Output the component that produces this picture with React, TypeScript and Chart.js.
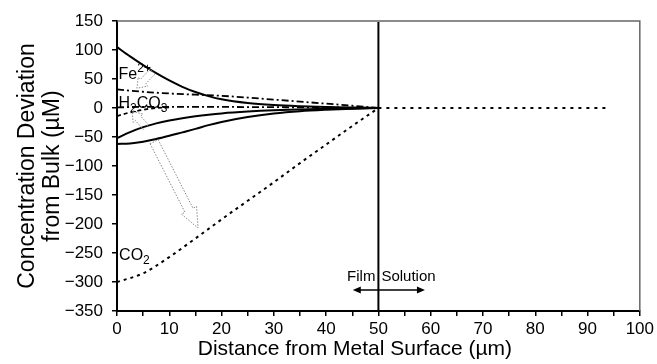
import React, { useEffect, useRef } from "react";
import { Chart, registerables } from "chart.js";

Chart.register(...registerables);

// ---- Data ----
const X_FINE = [0, 2.5, 5, 7.5, 10, 12.5, 15, 17.5, 20, 25, 30, 35, 40, 45, 50];
const X_COARSE = [0, 5, 10, 15, 20, 25, 30, 35, 40, 45, 50];
const X_SHORT = [0, 2.5, 5, 7.5, 10];
const X_BULK = [50, 94];

const FE_SOLID = [105, 89, 74, 60, 47.5, 36.5, 27.5, 20.5, 15, 8.5, 5, 3, 1.7, 0.8, 0];
const FE_DASHDOT = [32, 28, 25, 23, 21, 18, 14.5, 11, 7.5, 4, 0];
const H2CO3_DASHDOT = [1, 2, 2, 2, 2, 1.5, 1.5, 1, 1, 0.5, 0];
const LOWER_DASH = [-14, -7.5, -3, 0, 1];
const SOLID_A = [-52, -41.5, -33, -26.5, -21.5, -17.5, -14.2, -11.5, -9.3, -6.2, -4, -2.6, -1.5, -0.7, 0];
const SOLID_B = [-62, -61, -58, -53.5, -48, -42, -36, -29.5, -24, -15.5, -9.5, -5.5, -3, -1.2, 0];
const CO2_DOTTED = [-300, -285, -257, -225, -192, -160, -128, -95, -63, -31, 0];
const BULK = [0, 0];

const X_TICK_LABELS = [0, 10, 20, 30, 40, 50, 60, 70, 80, 90, 100];
const X_TITLE = "Distance from Metal Surface (µm)";
const Y_TITLE = ["Concentration Deviation", "from Bulk (µM)"];

// annotation anchors in data coordinates
const FILM_BOUNDARY = 50;
const FILM_TEXT_Y = -291;
const FILM_ARROW = { y: -314, x0: 45.1, x1: 58.9 };
const X_TITLE_CENTER = 45.5; // data-x where the axis title is centred
const LABELS = [
  { parts: [{ t: "Fe", m: "n" }, { t: "2+", m: "sup" }], x: 0.3, y: 58 },
  { parts: [{ t: "H", m: "n" }, { t: "2", m: "sub" }, { t: "CO", m: "n" }, { t: "3", m: "sub" }], x: 0.3, y: 7 },
  { parts: [{ t: "CO", m: "n" }, { t: "2", m: "sub" }], x: 0.4, y: -255 },
];
const HOLLOW_ARROWS = [
  { tail: [6.8, 63], head: [3.8, 34], shaft: 3.5, headW: 6.5, headL: 9 },
  { tail: [5.5, -33], head: [2.9, -6], shaft: 3.5, headW: 6.5, headL: 9 },
  { tail: [7.1, -58], head: [15.5, -207], shaft: 4.5, headW: 8.5, headL: 20 },
];

const pts = (xs: number[], ys: number[]) => xs.map((x, i) => ({ x, y: ys[i] }));

const FONT = "'Liberation Sans', Arial, Helvetica, sans-serif";

function drawRich(ctx: CanvasRenderingContext2D, parts: any[], x: number, y: number, size: number) {
  let cx = x;
  for (const p of parts) {
    const s = p.m === "n" ? size : size * 0.75;
    ctx.font = `${s}px ${FONT}`;
    const dy = p.m === "sup" ? -size * 0.35 : p.m === "sub" ? size * 0.3 : 0;
    ctx.fillText(p.t, cx, y + dy);
    cx += ctx.measureText(p.t).width;
  }
}

const overlayPlugin = {
  id: "overlay",
  beforeDatasetsDraw(chart: any) {
    const { ctx, chartArea, scales } = chart;
    const xs = scales.x;
    ctx.save();
    ctx.strokeStyle = "#666";
    ctx.lineWidth = 1.5;
    ctx.beginPath();
    ctx.moveTo(chartArea.left, chartArea.top);
    ctx.lineTo(chartArea.right, chartArea.top);
    ctx.lineTo(chartArea.right, chartArea.bottom);
    ctx.stroke();
    const bx = xs.getPixelForValue(FILM_BOUNDARY);
    ctx.strokeStyle = "#000";
    ctx.lineWidth = 2;
    ctx.beginPath();
    ctx.moveTo(bx, chartArea.top + 1);
    ctx.lineTo(bx, chartArea.bottom);
    ctx.stroke();
    ctx.restore();
  },
  afterDatasetsDraw(chart: any) {
    const { ctx, scales, chartArea } = chart;
    const xs = scales.x;
    const ys = scales.y;
    ctx.save();
    ctx.fillStyle = "#000";
    ctx.textBaseline = "middle";
    ctx.textAlign = "left";
    for (const l of LABELS) {
      drawRich(ctx, l.parts, xs.getPixelForValue(l.x), ys.getPixelForValue(l.y), 16);
    }
    const bx = xs.getPixelForValue(FILM_BOUNDARY);
    const ty = ys.getPixelForValue(FILM_TEXT_Y);
    ctx.font = `15px ${FONT}`;
    ctx.textAlign = "right";
    ctx.fillText("Film", bx - 3, ty);
    ctx.textAlign = "left";
    ctx.fillText("Solution", bx + 3, ty);
    const ay = ys.getPixelForValue(FILM_ARROW.y);
    const ax0 = xs.getPixelForValue(FILM_ARROW.x0);
    const ax1 = xs.getPixelForValue(FILM_ARROW.x1);
    ctx.strokeStyle = "#000";
    ctx.lineWidth = 1.5;
    ctx.beginPath();
    ctx.moveTo(ax0 + 4, ay);
    ctx.lineTo(ax1 - 4, ay);
    ctx.stroke();
    ctx.beginPath();
    ctx.moveTo(ax0, ay);
    ctx.lineTo(ax0 + 8, ay - 3.5);
    ctx.lineTo(ax0 + 8, ay + 3.5);
    ctx.closePath();
    ctx.moveTo(ax1, ay);
    ctx.lineTo(ax1 - 8, ay - 3.5);
    ctx.lineTo(ax1 - 8, ay + 3.5);
    ctx.closePath();
    ctx.fill();

    // x axis title
    ctx.font = `21px ${FONT}`;
    ctx.textAlign = "center";
    ctx.textBaseline = "middle";
    ctx.fillText(X_TITLE, xs.getPixelForValue(X_TITLE_CENTER), chartArea.bottom + 38);

    ctx.strokeStyle = "#888";
    ctx.lineWidth = 1;
    ctx.setLineDash([1.5, 1.5]);
    for (const a of HOLLOW_ARROWS) {
      const tx = xs.getPixelForValue(a.tail[0]);
      const tyy = ys.getPixelForValue(a.tail[1]);
      const hx = xs.getPixelForValue(a.head[0]);
      const hy = ys.getPixelForValue(a.head[1]);
      const dx = hx - tx;
      const dy = hy - tyy;
      const len = Math.hypot(dx, dy);
      const ux = dx / len;
      const uy = dy / len;
      const nx = -uy;
      const ny = ux;
      const bxp = hx - ux * a.headL;
      const byp = hy - uy * a.headL;
      ctx.beginPath();
      ctx.moveTo(tx + nx * a.shaft, tyy + ny * a.shaft);
      ctx.lineTo(bxp + nx * a.shaft, byp + ny * a.shaft);
      ctx.lineTo(bxp + nx * a.headW, byp + ny * a.headW);
      ctx.lineTo(hx, hy);
      ctx.lineTo(bxp - nx * a.headW, byp - ny * a.headW);
      ctx.lineTo(bxp - nx * a.shaft, byp - ny * a.shaft);
      ctx.lineTo(tx - nx * a.shaft, tyy - ny * a.shaft);
      ctx.closePath();
      ctx.stroke();
    }
    ctx.restore();
  },
};

export default function App() {
  const ref = useRef<HTMLCanvasElement | null>(null);
  useEffect(() => {
    if (!ref.current) return;
    const base = {
      pointRadius: 0,
      borderColor: "#000",
      fill: false,
      cubicInterpolationMode: "monotone" as const,
    };
    const chart = new Chart(ref.current, {
      type: "line",
      data: {
        datasets: [
          { ...base, data: pts(X_FINE, FE_SOLID), borderWidth: 2 },
          { ...base, data: pts(X_COARSE, FE_DASHDOT), borderWidth: 1.8, borderDash: [7, 3, 2, 3] },
          { ...base, data: pts(X_COARSE, H2CO3_DASHDOT), borderWidth: 1.8, borderDash: [7, 3, 2, 3] },
          { ...base, data: pts(X_SHORT, LOWER_DASH), borderWidth: 1.8, borderDash: [4, 3] },
          { ...base, data: pts(X_FINE, SOLID_A), borderWidth: 2 },
          { ...base, data: pts(X_FINE, SOLID_B), borderWidth: 2 },
          { ...base, data: pts(X_COARSE, CO2_DOTTED), borderWidth: 2, borderDash: [3, 4] },
          { ...base, data: pts(X_BULK, BULK), borderWidth: 2, borderDash: [3, 5] },
        ],
      },
      options: {
        animation: false,
        responsive: false,
        maintainAspectRatio: false,
        layout: { padding: { top: 21, right: 17, left: 0, bottom: 0 } },
        plugins: { legend: { display: false }, tooltip: { enabled: false } },
        scales: {
          x: {
            type: "linear",
            min: 0,
            max: 100,
            afterFit: (s: any) => {
              s.height = 53;
            },
            afterBuildTicks: (s: any) => {
              const t: any[] = [];
              for (let v = 0; v <= 100; v += 5) t.push({ value: v });
              s.ticks = t;
            },
            ticks: {
              autoSkip: false,
              maxRotation: 0,
              padding: 3,
              color: "#000",
              font: { family: FONT, size: 17 },
              callback: (v: any) => (X_TICK_LABELS.includes(Number(v)) ? String(v) : ""),
            },
            grid: { drawOnChartArea: false, drawTicks: true, tickLength: 5, color: "#000", lineWidth: 1.5 },
            border: { display: true, color: "#000", width: 2 },
            title: { display: false },
          },
          y: {
            type: "linear",
            min: -350,
            max: 150,
            afterFit: (s: any) => {
              s.width = 117;
            },
            ticks: {
              stepSize: 50,
              padding: 9,
              color: "#000",
              font: { family: FONT, size: 17 },
              callback: (v: any) => (Number(v) < 0 ? "\u2212" + Math.abs(Number(v)) : String(v)),
            },
            grid: { drawOnChartArea: false, drawTicks: true, tickLength: 5, color: "#000", lineWidth: 1.5 },
            border: { display: true, color: "#000", width: 2 },
            title: {
              display: true,
              text: Y_TITLE,
              color: "#000",
              font: { family: FONT, size: 23, lineHeight: 1.08 },
              padding: { top: 15, bottom: 0 },
            },
          },
        },
      },
      plugins: [overlayPlugin],
    });
    return () => chart.destroy();
  }, []);
  return (
    <div style={{ position: "absolute", left: 0, top: 0, width: 657, height: 364, background: "#fff" }}>
      <canvas ref={ref} width={657} height={364} style={{ width: 657, height: 364, display: "block" }} />
    </div>
  );
}
